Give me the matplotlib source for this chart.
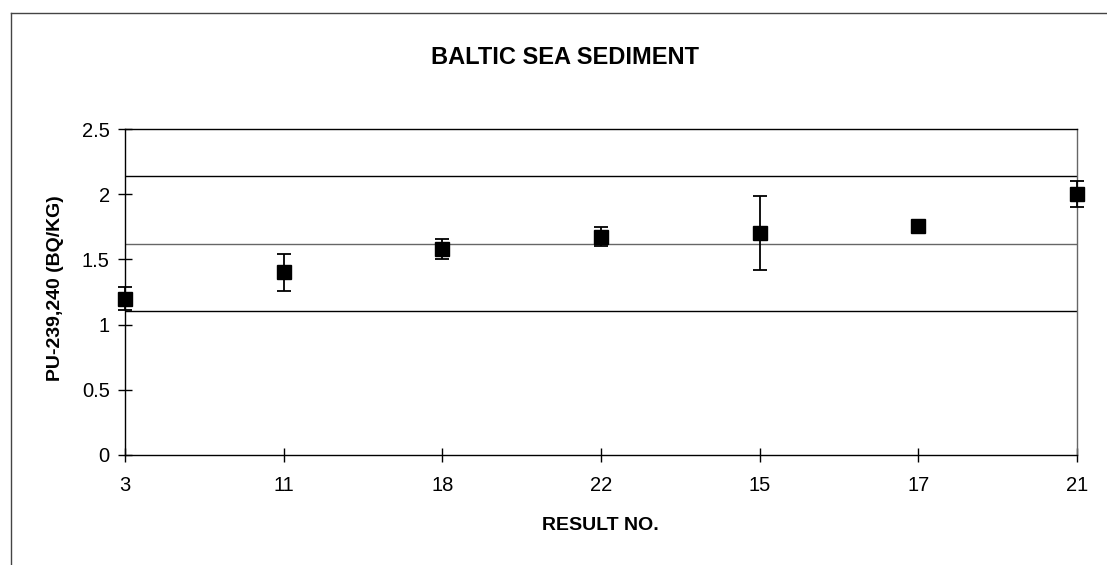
import matplotlib
matplotlib.use("Agg")
import matplotlib.pyplot as plt
from matplotlib.lines import Line2D

plt.rcParams['font.family'] = ['Liberation Sans', 'DejaVu Sans']

# lab results, in plotting order
result_no = ['3', '11', '18', '22', '15', '17', '21']
activity = [1.20, 1.40, 1.58, 1.675, 1.705, 1.756, 2.00]
uncert = [0.085, 0.14, 0.075, 0.07, 0.285, 0.02, 0.10]

# reference value band (lower, median, upper)
ref_lines = [1.102, 1.62, 2.137]

W, H = 1107, 565
fig = plt.figure(figsize=(W / 100, H / 100), dpi=100)
ax = fig.add_axes([125 / W, 1 - 455 / H, 952 / W, 326 / H])

x = list(range(len(result_no)))
for i, y in enumerate(ref_lines):
    ax.axhline(y, color='#666666' if i == 1 else 'black', lw=1.0, zorder=1)

ax.errorbar(x, activity, yerr=uncert, fmt='s', color='black', ms=9.5,
            ecolor='black', elinewidth=1.3, capsize=5.2, capthick=1.3,
            zorder=3, clip_on=False)

ax.set_xlim(0, len(result_no) - 1)
ax.set_ylim(0, 2.5)
ax.set_xticks(x)
ax.set_xticklabels(result_no)
ax.set_yticks([0, 0.5, 1, 1.5, 2, 2.5])
ax.set_yticklabels(['0', '0.5', '1', '1.5', '2', '2.5'])
ax.tick_params(direction='inout', length=10, width=1, labelsize=14.5)
ax.tick_params(axis='x', pad=10)
ax.tick_params(axis='y', pad=6)
ax.spines['right'].set_color('#666666')
for s in ax.spines.values():
    s.set_linewidth(1)

fig.text(600 / W, 1 - 526 / H, 'RESULT NO.', ha='center', va='center',
         fontsize=14, fontweight='bold')
fig.text(56 / W, 1 - 288 / H, 'PU-239,240 (BQ/KG)', ha='center',
         va='center', rotation=90, fontsize=14, fontweight='bold')
fig.text(565 / W, 1 - 57 / H, 'BALTIC SEA SEDIMENT', ha='center',
         va='center', fontsize=17, fontweight='bold')

# chart frame (open on the right and bottom edges)
fig.add_artist(Line2D([11 / W, 11 / W], [0, 1 - 13 / H],
                      transform=fig.transFigure, color='#444444', lw=1))
fig.add_artist(Line2D([11 / W, 1], [1 - 13 / H, 1 - 13 / H],
                      transform=fig.transFigure, color='#444444', lw=1))

fig.savefig('out.png', dpi=100)
